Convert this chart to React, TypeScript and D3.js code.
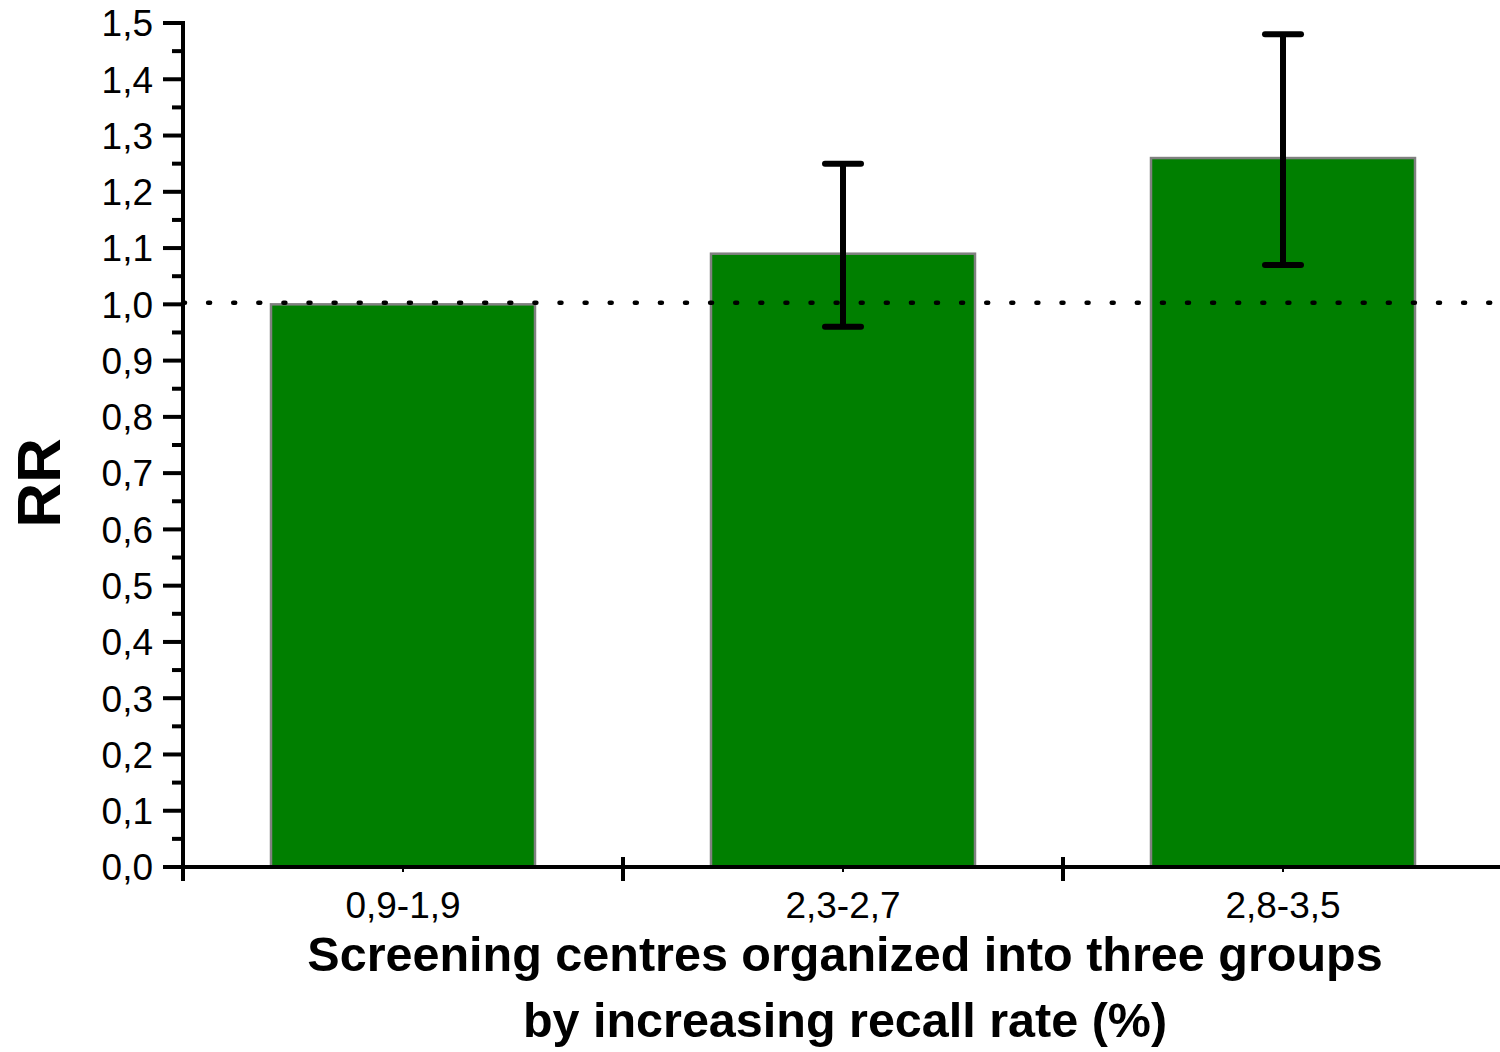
import React from "react";
import * as d3 from "d3";

const categories = ["0,9-1,9", "2,3-2,7", "2,8-3,5"];
const rrValues = [1.0, 1.09, 1.26];
const errLow = [null, 0.96, 1.07];
const errHigh = [null, 1.25, 1.48];
const yTicks = [0, 0.1, 0.2, 0.3, 0.4, 0.5, 0.6, 0.7, 0.8, 0.9, 1.0, 1.1, 1.2, 1.3, 1.4, 1.5];
const referenceValue = 1.0;
const yLabel = "RR";
const xTitle = [
  "Screening centres organized into three groups",
  "by increasing recall rate (%)",
];

const W = 1500;
const H = 1052;
const left = 183;
const right = 1503;
const top = 23;
const bottom = 867;

export default function App() {
  const y = d3.scaleLinear().domain([0, 1.5]).range([bottom, top]);
  const x = d3
    .scaleBand<string>()
    .domain(categories)
    .range([left, right])
    .paddingInner(0.4)
    .paddingOuter(0.2);
  const step = x.step();
  const fmt = (v: number) => d3.format(".1f")(v).replace(".", ",");
  const minorTicks = d3.range(0, 15).map((i) => (i + 0.5) / 10);
  const font = "'Liberation Sans', Arial, Helvetica, sans-serif";
  const capHalf = 18;

  return (
    <svg
      width={W}
      height={H}
      style={{ position: "absolute", left: 0, top: 0, background: "#fff" }}
      fontFamily={font}
    >
      {/* bars */}
      {categories.map((c, i) => (
        <rect
          key={c}
          x={x(c)}
          y={y(rrValues[i])}
          width={x.bandwidth()}
          height={y(0) - y(rrValues[i])}
          fill="#007f00"
          stroke="#808080"
          strokeWidth={2.5}
        />
      ))}
      {/* reference dotted line */}
      <line
        x1={left}
        x2={W}
        y1={y(referenceValue) - 1.5}
        y2={y(referenceValue) - 1.5}
        stroke="#000"
        strokeWidth={4.5}
        strokeLinecap="round"
        strokeDasharray="2 23.1"
      />
      {/* error bars */}
      {categories.map((c, i) => {
        const lo = errLow[i];
        const hi = errHigh[i];
        if (lo == null || hi == null) return null;
        const cx = (x(c) as number) + x.bandwidth() / 2;
        return (
          <g key={"e" + c} stroke="#000" strokeWidth={6} strokeLinecap="round">
            <line x1={cx} x2={cx} y1={y(lo)} y2={y(hi)} strokeLinecap="butt" />
            <line x1={cx - capHalf} x2={cx + capHalf} y1={y(hi)} y2={y(hi)} />
            <line x1={cx - capHalf} x2={cx + capHalf} y1={y(lo)} y2={y(lo)} />
          </g>
        );
      })}
      {/* y axis */}
      <line x1={left} x2={left} y1={top - 2} y2={bottom + 2} stroke="#000" strokeWidth={4} />
      {yTicks.map((t) => (
        <g key={"yt" + t}>
          <line x1={left - 20} x2={left} y1={y(t)} y2={y(t)} stroke="#000" strokeWidth={4} />
          <text
            x={153}
            y={y(t)}
            dy="0.36em"
            textAnchor="end"
            fontSize={37}
            fill="#000"
          >
            {fmt(t)}
          </text>
        </g>
      ))}
      {minorTicks.map((t) => (
        <line key={"ym" + t} x1={left - 11} x2={left} y1={y(t)} y2={y(t)} stroke="#000" strokeWidth={4} />
      ))}
      {/* x axis */}
      <line x1={left - 20} x2={W} y1={bottom} y2={bottom} stroke="#000" strokeWidth={4} />
      {categories.map((c, i) => {
        const bx = left + i * step;
        return (
          <line key={"xt" + c} x1={bx} x2={bx} y1={bottom - 10} y2={bottom + 14} stroke="#000" strokeWidth={4} />
        );
      })}
      {categories.map((c) => {
        const cx = (x(c) as number) + x.bandwidth() / 2;
        return (
          <g key={"xl" + c}>
            <line x1={cx} x2={cx} y1={bottom} y2={bottom + 5} stroke="#000" strokeWidth={2} />
            <text x={cx} y={918} textAnchor="middle" fontSize={37} fill="#000">
              {c}
            </text>
          </g>
        );
      })}
      {/* axis titles */}
      <text
        transform={`translate(60,${(top + bottom) / 2 + 38}) rotate(-90)`}
        textAnchor="middle"
        fontSize={62}
        fontWeight="bold"
        fill="#000"
      >
        {yLabel}
      </text>
      {xTitle.map((line, i) => (
        <text
          key={"t" + i}
          x={845}
          y={971 + i * 66}
          textAnchor="middle"
          fontSize={48.5}
          fontWeight="bold"
          fill="#000"
        >
          {line}
        </text>
      ))}
    </svg>
  );
}
